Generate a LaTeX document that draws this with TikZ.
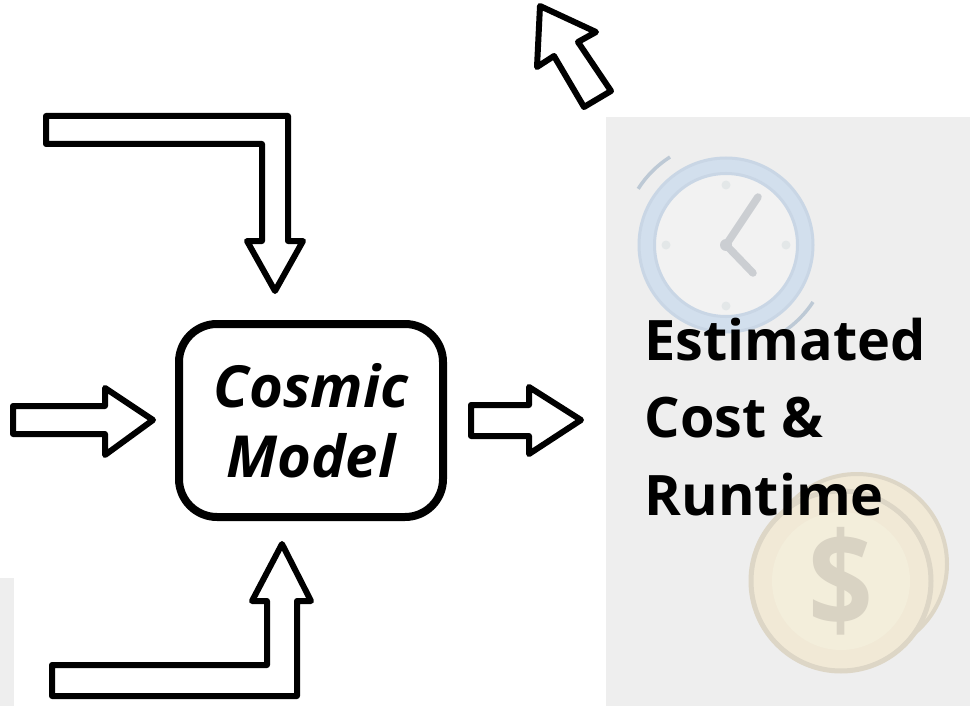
\documentclass[tikz,border=0pt]{standalone}
\usepackage{fontspec}
\setmainfont{Open Sans}
\definecolor{panel}{HTML}{EEEEEE}
\definecolor{ringf}{HTML}{D2DFED}
\definecolor{ringe}{HTML}{C9D6E5}
\definecolor{facef}{HTML}{F2F2F2}
\definecolor{handc}{HTML}{CBCED2}
\definecolor{dotc}{HTML}{E3E7E8}
\definecolor{coine}{HTML}{DDD6C6}
\definecolor{coinf}{HTML}{F1E9D6}
\definecolor{coini}{HTML}{F3EEDB}
\definecolor{dollar}{HTML}{D9D3C3}
\tikzset{
  blockarrow/.style={draw=black,line width=6pt,line join=round,fill=white},
  modelbox/.style={draw=black,line width=8pt,rounded corners=38pt,minimum width=264pt,minimum height=193pt,align=center,inner sep=0pt,font=\fontsize{58}{70}\selectfont\bfseries\itshape},
  paneltext/.style={anchor=base west,inner sep=0pt,font=\fontsize{55.8}{55.8}\selectfont\bfseries}
}
\begin{document}
\begin{tikzpicture}[x=1pt,y=-1pt]
\useasboundingbox (0,0) rectangle (970,706);
% panels
\fill[panel] (606,117) rectangle (970,706);
\fill[panel] (0,578) rectangle (14,706);
% clock
\draw[draw=ringe,line width=3pt,fill=ringf] (726,245) circle[radius=87];
\draw[draw=ringe,line width=3pt,fill=facef] (726,245) circle[radius=71.5];
\foreach \p in {(726,185),(726,306),(666,245),(786,245)} \fill[dotc] \p circle[radius=4.5];
\draw[handc,line width=7.5pt,line cap=round] (758,197) -- (726,245) -- (753,273);
\fill[handc] (726,245) circle[radius=6];
\draw[ringf!90!black,line width=3.5pt] (670,157) arc[start angle=237.5,end angle=212.5,radius=104];
\draw[ringf!90!black,line width=3.5pt] (813,302) arc[start angle=33.2,end angle=56.8,radius=104];
% coins
\draw[draw=coine,line width=4pt,fill=coinf] (857,564) circle[radius=90];
\draw[draw=coine,line width=5pt,fill=coinf] (841,581) circle[radius=90];
\fill[coini] (841,581) circle[radius=69];
\node[text=dollar,inner sep=0pt,xscale=0.86,font=\fontsize{132}{132}\selectfont\bfseries] (dollarsign) at (841,581) {\$};
% panel text
\node[paneltext] (estimated) at (644.5,360) {Estimated};
\node[paneltext] (cost) at (644.5,437.5) {Cost \&};
\node[paneltext] (runtime) at (644.5,515) {Runtime};
% model
\node[modelbox] (model) at (311,420.5) {Cosmic\\Model};
% arrows
\draw[blockarrow] (46,116) -- (288,116) -- (288,241) -- (303,241) -- (275,291) -- (247,241) -- (262,241) -- (262,144) -- (46,144) -- cycle;
\draw[blockarrow] (52,696) -- (297,696) -- (297,601) -- (311,601) -- (282,544) -- (252,601) -- (267,601) -- (267,665) -- (52,665) -- cycle;
\draw[blockarrow] (13,406) -- (105,406) -- (105,388) -- (153,420) -- (105,455) -- (105,434) -- (13,434) -- cycle;
\draw[blockarrow] (471,405) -- (529,405) -- (529,387) -- (581,420) -- (529,454) -- (529,436) -- (471,436) -- cycle;
\draw[blockarrow] (540,6) -- (596,32) -- (578,42) -- (611,91) -- (584,107) -- (554,56) -- (537,67) -- cycle;
\end{tikzpicture}
\end{document}
